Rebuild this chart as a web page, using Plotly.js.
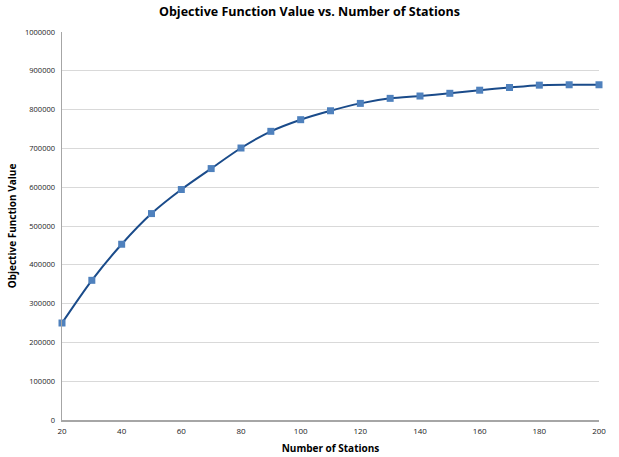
<!DOCTYPE html>
<html>
<head>
<meta charset="utf-8">
<script src="https://cdn.plot.ly/plotly-3.0.1.min.js"></script>
<style>html,body{margin:0;padding:0;background:#fff;}#chart{width:619px;height:457px;}</style>
</head>
<body>
<div id="chart"></div>
<script>
var stations = [20, 30, 40, 50, 60, 70, 80, 90, 100, 110, 120, 130, 140, 150, 160, 170, 180, 190, 200];
var objectiveValues = [250000, 360000, 453000, 532000, 594000, 648000, 701000, 744000, 774000, 797000, 816000, 829000, 835000, 842000, 850000, 857000, 863000, 864000, 864000];
var xTicks = [20, 40, 60, 80, 100, 120, 140, 160, 180, 200];
var yTicks = [0, 100000, 200000, 300000, 400000, 500000, 600000, 700000, 800000, 900000, 1000000];

var trace = {
  x: stations,
  y: objectiveValues,
  type: 'scatter',
  mode: 'lines+markers',
  line: {shape: 'spline', smoothing: 0.8, color: '#1a4b8a', width: 2},
  marker: {symbol: 'square', size: 7, color: '#4f81bd', line: {width: 0}},
  cliponaxis: false,
  hoverinfo: 'x+y'
};

var fontFam = '"Open Sans", "Liberation Sans", Arial, sans-serif';
var layout = {
  width: 619,
  height: 457,
  margin: {l: 62, r: 20, t: 32, b: 37},
  paper_bgcolor: '#ffffff',
  plot_bgcolor: '#ffffff',
  showlegend: false,
  title: {
    text: '<b>Objective Function Value vs. Number of Stations</b>',
    font: {family: fontFam, size: 12.5, color: '#000'},
    x: 0.5, xanchor: 'center', y: 0.974, yanchor: 'middle'
  },
  xaxis: {
    range: [20, 200],
    tickvals: xTicks,
    ticktext: xTicks.map(String),
    showgrid: false,
    zeroline: false,
    showline: true,
    linecolor: '#a6a6a6',
    linewidth: 1.5,
    ticks: '',
    ticklabelstandoff: 3,
    tickfont: {family: fontFam, size: 8, color: '#222'},
    title: {text: '<b>Number of Stations</b>', font: {family: fontFam, size: 10, color: '#000'}, standoff: 10}
  },
  yaxis: {
    range: [0, 1000000],
    tickvals: yTicks,
    ticktext: yTicks.map(String),
    showgrid: true,
    gridcolor: '#d9d9d9',
    gridwidth: 1,
    zeroline: false,
    showline: true,
    linecolor: '#a6a6a6',
    linewidth: 1.5,
    ticks: '',
    ticklen: 0,
    ticklabelstandoff: 4,
    tickfont: {family: fontFam, size: 7.5, color: '#222'},
    title: {text: '<b>Objective Function Value</b>', font: {family: fontFam, size: 10, color: '#000'}, standoff: 6}
  }
};

Plotly.newPlot('chart', [trace], layout, {displayModeBar: false, staticPlot: true});
</script>
</body>
</html>
